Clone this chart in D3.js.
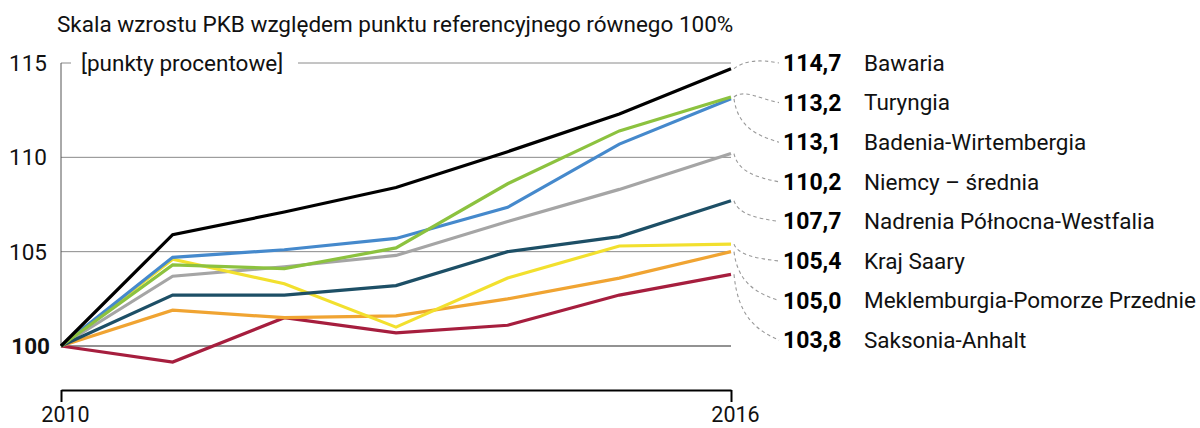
<!DOCTYPE html>
<html>
<head>
<meta charset="utf-8">
<script src="https://cdn.jsdelivr.net/npm/d3@7/dist/d3.min.js"></script>
<style>
  html, body { margin: 0; padding: 0; background: #fff; }
  svg { display: block; font-family: Roboto, "Noto Sans", sans-serif; }
</style>
</head>
<body>
<svg id="chart" width="1200" height="428"></svg>
<script>
const title = "Skala wzrostu PKB względem punktu referencyjnego równego 100%";
const unitLabel = "[punkty procentowe]";
const years = [2010, 2011, 2012, 2013, 2014, 2015, 2016];
const yTicks = [100, 105, 110, 115];
const xTickLabels = [2010, 2016];

const seriesNames = ["Bawaria", "Turyngia", "Badenia-Wirtembergia", "Niemcy – średnia",
  "Nadrenia Północna-Westfalia", "Kraj Saary", "Meklemburgia-Pomorze Przednie", "Saksonia-Anhalt"];
const seriesColors = ["#000000", "#8cc23f", "#4589cc", "#a5a5a5", "#1d4f66", "#f2e02e", "#f0a432", "#a61e3e"];
const bawaria     = [100, 105.9, 107.1, 108.4, 110.3, 112.3, 114.7];
const turyngia    = [100, 104.3, 104.1, 105.2, 108.6, 111.4, 113.2];
const badenia     = [100, 104.7, 105.1, 105.7, 107.35, 110.7, 113.1];
const niemcy      = [100, 103.7, 104.2, 104.8, 106.6, 108.3, 110.2];
const nadrenia    = [100, 102.7, 102.7, 103.2, 105.0, 105.8, 107.7];
const krajSaary   = [100, 104.6, 103.3, 101.0, 103.6, 105.3, 105.4];
const meklemburgia= [100, 101.9, 101.5, 101.6, 102.5, 103.6, 105.0];
const saksonia    = [100, 99.15, 101.5, 100.7, 101.1, 102.7, 103.8];
const seriesValues = [bawaria, turyngia, badenia, niemcy, nadrenia, krajSaary, meklemburgia, saksonia];
const labelValues = ["114,7", "113,2", "113,1", "110,2", "107,7", "105,4", "105,0", "103,8"];

const FS = 22.5;
const svg = d3.select("#chart");
const x = d3.scaleLinear().domain([2010, 2016]).range([61, 731]);
const y = d3.scaleLinear().domain([100, 115]).range([346, 63]);

// title
svg.append("text").attr("x", 57).attr("y", 32)
  .attr("font-size", FS).attr("fill", "#111").text(title);

// gridlines
const grid = svg.append("g");
yTicks.forEach(t => {
  if (t === 115) {
    grid.append("line").attr("x1", x(2010)).attr("x2", x(2010) + 10)
      .attr("y1", y(t)).attr("y2", y(t)).attr("stroke", "#8a8a8a").attr("stroke-width", 1);
    grid.append("line").attr("x1", 298).attr("x2", x(2016))
      .attr("y1", y(t)).attr("y2", y(t)).attr("stroke", "#8a8a8a").attr("stroke-width", 1);
  } else {
    grid.append("line").attr("x1", x(2010)).attr("x2", x(2016))
      .attr("y1", y(t)).attr("y2", y(t))
      .attr("stroke", t === 100 ? "#6e6e6e" : "#8a8a8a")
      .attr("stroke-width", t === 100 ? 1.5 : 1);
  }
});
// vertical axis line
svg.append("line").attr("x1", x(2010)).attr("x2", x(2010))
  .attr("y1", y(115)).attr("y2", y(100)).attr("stroke", "#555").attr("stroke-width", 1);

// y tick labels
svg.append("g").selectAll("text").data(yTicks).join("text")
  .attr("x", d => d === 100 ? 50 : 47).attr("y", d => y(d)).attr("dy", "0.35em")
  .attr("text-anchor", "end")
  .attr("font-size", FS)
  .attr("font-weight", d => d === 100 ? 700 : 400)
  .attr("fill", "#111")
  .text(d => d);

// unit label
svg.append("text").attr("x", 81).attr("y", y(115)).attr("dy", "0.35em")
  .attr("font-size", FS).attr("fill", "#111").text(unitLabel);

// bottom axis
const xAxis = d3.axisBottom(x).tickValues(xTickLabels).tickFormat(d3.format("d"))
  .tickSize(12).tickSizeOuter(0).tickPadding(5);
const gx = svg.append("g").attr("transform", "translate(0,390)").call(xAxis);
gx.select(".domain").attr("stroke", "#000").attr("stroke-width", 2);
gx.selectAll(".tick line").attr("stroke", "#000").attr("stroke-width", 2);
gx.selectAll(".tick text").attr("font-size", 21.5).attr("fill", "#111")
  .attr("font-family", "Roboto, sans-serif").attr("dx", 4);

// lines (draw from bottom to top)
const line = d3.line().x((d, i) => x(years[i])).y(d => y(d));
const order = [3, 7, 6, 5, 4, 2, 1, 0];
svg.append("g").selectAll("path").data(order).join("path")
  .attr("d", i => line(seriesValues[i]))
  .attr("fill", "none")
  .attr("stroke", i => seriesColors[i])
  .attr("stroke-width", 3.2)
  .attr("stroke-linejoin", "miter");

// labels and leaders
const labelY = i => 63 + i * 39.6;
const lx0 = x(2016) + 3, lx1 = 779;
const leaders = svg.append("g");
seriesValues.forEach((vals, i) => {
  const y0 = y(vals[vals.length - 1]);
  const y1 = labelY(i);
  const dy = y1 - y0;
  const path = d3.path();
  path.moveTo(lx0, y0);
  if (Math.abs(dy) < 12) {
    path.bezierCurveTo(lx0 + 10, y0 - 8, lx1 - 20, y1 - 4, lx1, y1);
  } else {
    path.bezierCurveTo(lx0 + 4, y0 + 0.65 * dy, lx1 - 22, y1 - 0.15 * dy, lx1, y1);
  }
  leaders.append("path").attr("d", path.toString())
    .attr("fill", "none").attr("stroke", "#9a9a9a")
    .attr("stroke-width", 1.1).attr("stroke-dasharray", "3.5,3");
});

const labels = svg.append("g");
seriesNames.forEach((name, i) => {
  labels.append("text").attr("x", 783).attr("y", labelY(i)).attr("dy", "0.35em")
    .attr("font-size", 23).attr("font-weight", 700).attr("fill", "#000")
    .text(labelValues[i]);
  labels.append("text").attr("x", 864).attr("y", labelY(i)).attr("dy", "0.35em")
    .attr("font-size", FS).attr("fill", "#111").text(name);
});
</script>
</body>
</html>
